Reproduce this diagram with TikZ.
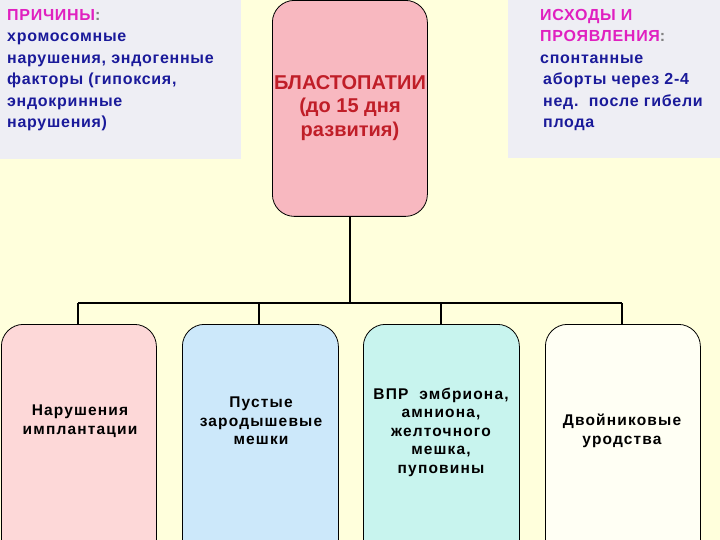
\documentclass[tikz,border=0pt]{standalone}
\usepackage{fontspec}
\setmainfont{Liberation Sans}
\newfontfamily\wideA[LetterSpace=4.5]{Liberation Sans}
\newfontfamily\wideB[LetterSpace=7.5]{Liberation Sans}
\definecolor{bg}{HTML}{FFFFDC}
\definecolor{panel}{HTML}{EEEEF4}
\definecolor{centerpink}{HTML}{F8B8C0}
\definecolor{boxA}{HTML}{FDD8D8}
\definecolor{boxB}{HTML}{CCE8FA}
\definecolor{boxC}{HTML}{C8F4EE}
\definecolor{boxD}{HTML}{FFFFF4}
\definecolor{magentatxt}{HTML}{E020C0}
\definecolor{bluetxt}{HTML}{1A1A9A}
\definecolor{redtxt}{HTML}{C01E28}
\tikzset{
  x=1pt, y=-1pt,
  rbox/.style={draw=black, line width=0.8pt, rounded corners=22pt, rectangle, anchor=north west, inner sep=0pt},
  conn/.style={draw=black, line width=2pt},
  btxt/.style={align=center, font=\wideB\bfseries\fontsize{15.5}{18.5}\selectfont, text=black},
  ptxt/.style={align=left, anchor=north west, font=\wideA\bfseries\fontsize{16}{21.5}\selectfont, text=bluetxt, inner sep=0pt}
}
\begin{document}
\begin{tikzpicture}
\useasboundingbox (0,0) rectangle (720,540);
\clip (0,0) rectangle (720,540);
\fill[bg] (0,0) rectangle (720,540);
% side panels
\fill[panel] (0,0) rectangle (241,159);
\fill[panel] (508,0) rectangle (720,158);
% center box
\node[rbox, fill=centerpink, minimum width=155pt, minimum height=216pt] (c) at (272,0) {};
% bottom boxes
\node[rbox, fill=boxA, minimum width=155pt, minimum height=240pt] (b1) at (1,324) {};
\node[rbox, fill=boxB, minimum width=156pt, minimum height=240pt] (b2) at (182,324) {};
\node[rbox, fill=boxC, minimum width=156pt, minimum height=240pt] (b3) at (363,324) {};
\node[rbox, fill=boxD, minimum width=155pt, minimum height=240pt] (b4) at (545,324) {};
% connectors
\coordinate (j) at (350,303);
\coordinate (h1) at (78,303);
\coordinate (h2) at (259,303);
\coordinate (h3) at (441,303);
\coordinate (h4) at (622,303);
\draw[conn] (c.south -| j) -- (j);
\draw[conn] (h1) -- (h4);
\draw[conn] (h1) -- (h1 |- b1.north);
\draw[conn] (h2) -- (h2 |- b2.north);
\draw[conn] (h3) -- (h3 |- b3.north);
\draw[conn] (h4) -- (h4 |- b4.north);
% center text
\node[align=center, text=redtxt, font=\bfseries\fontsize{20}{23.5}\selectfont] (ct) at (350,108)
  {БЛАСТОПАТИИ\\(до 15 дня\\развития)};
% left panel text
\node[ptxt] (lt) at (7,9) {{\color{magentatxt}ПРИЧИНЫ}{\color{gray}:}\\хромосомные\\нарушения, эндогенные\\факторы (гипоксия,\\эндокринные\\нарушения)};
% right panel text
\node[ptxt] (rt) at (540,9) {{\color{magentatxt}ИСХОДЫ И}\\{\color{magentatxt}ПРОЯВЛЕНИЯ}{\color{gray}:}\\спонтанные\\\hspace{3pt}аборты через 2-4\\\hspace{3pt}нед.\ \ после гибели\\\hspace{3pt}плода};
% bottom texts
\node[btxt] (t1) at (80,421) {Нарушения\\имплантации};
\node[btxt] (t2) at (261,421) {Пустые\\зародышевые\\мешки};
\node[btxt] (t3) at (441,432) {ВПР\ \ эмбриона,\\амниона,\\желточного\\мешка,\\пуповины};
\node[btxt] (t4) at (622,431) {Двойниковые\\уродства};
\end{tikzpicture}
\end{document}
